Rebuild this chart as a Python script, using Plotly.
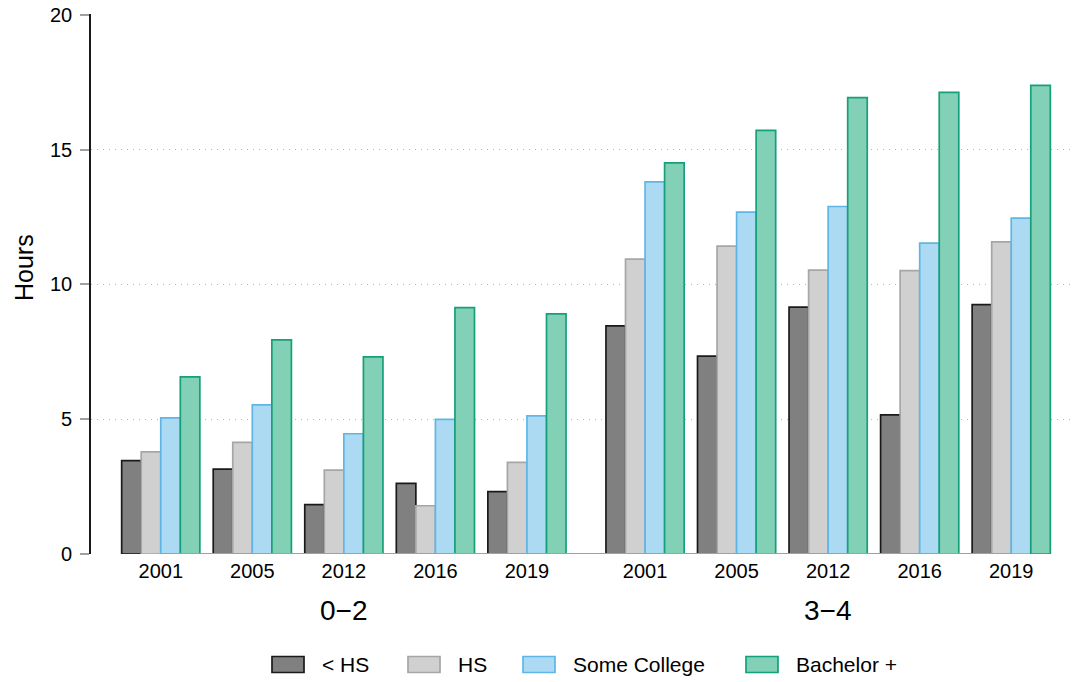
import plotly.graph_objects as go

# ---- data ----
age_groups = ["0\u22122", "3\u22124"]
years = ["2001", "2005", "2012", "2016", "2019"]
series_names = ["< HS", "HS", "Some College", "Bachelor +"]
lt_hs = [3.46, 3.15, 1.83, 2.62, 2.31, 8.46, 7.34, 9.16, 5.16, 9.25]
hs = [3.79, 4.14, 3.11, 1.79, 3.40, 10.94, 11.42, 10.53, 10.51, 11.58]
some_college = [5.05, 5.53, 4.46, 4.99, 5.12, 13.80, 12.68, 12.89, 11.53, 12.46]
bachelor = [6.57, 7.94, 7.31, 9.14, 8.91, 14.51, 15.71, 16.93, 17.12, 17.38]
y_ticks = [0, 5, 10, 15, 20]

# ---- styles ----
fills = ["#808080", "#d0d0d0", "#acdaf3", "#82d0b6"]
borders = ["#1a1a1a", "#a6a6a6", "#5fb6e6", "#16a07a"]
FONT = "Liberation Sans, Arial, Helvetica, sans-serif"

OFF = 8  # page body margin offset
W, H = 1083, 682
# target screen-pixel plot box
SX0, SX1, SY0, SY1 = 91, 1081, 14, 554
L = SX0 - OFF
T = SY0 - OFF
R = W - (SX1 - OFF)
B = H - (SY1 - OFF)
plot_w = SX1 - SX0
plot_h = SY1 - SY0


def px_x(sx):
    return (sx - SX0) / plot_w


def px_y(sy):
    return (SY1 - sy) / plot_h


group_gap = 0.29
positions = []
for a in range(len(age_groups)):
    for i in range(len(years)):
        positions.append(a * (len(years) + group_gap) + i)
tick_text = years * len(age_groups)

fig = go.Figure()
for name, vals, fc, bc in zip(series_names, [lt_hs, hs, some_college, bachelor], fills, borders):
    fig.add_trace(go.Bar(
        x=positions, y=vals, name=name,
        marker=dict(color=fc, line=dict(color=bc, width=1.7)),
        showlegend=False,
    ))

# x baseline (from first to last group centre)
fig.add_shape(type="line", xref="x", yref="y", x0=positions[0], x1=positions[-1], y0=0, y1=0,
              line=dict(color="#a0a0a0", width=2.2), layer="above")

# age group labels centred under middle year of each group
n = len(years)
for a, lab in enumerate(age_groups):
    mid = positions[a * n + n // 2]
    fig.add_annotation(x=mid, xref="x", y=px_y(610), yref="paper",
                       text=lab, showarrow=False, font=dict(size=28, color="black", family=FONT),
                       xanchor="center", yanchor="middle")

# y title
fig.add_annotation(x=px_x(OFF), xref="paper", y=px_y(268), yref="paper",
                   text="Hours", textangle=-90, showarrow=False,
                   font=dict(size=25, color="black", family=FONT),
                   xanchor="left", yanchor="middle")

# custom legend
box_left_px = [272, 408, 523, 746]
box_w, box_h, text_off = 32, 16, 48
leg_cy = 664.5
for name, fc, bc, bx in zip(series_names, fills, borders, box_left_px):
    fig.add_shape(type="rect", xref="paper", yref="paper",
                  x0=px_x(bx), x1=px_x(bx + box_w),
                  y0=px_y(leg_cy + box_h / 2), y1=px_y(leg_cy - box_h / 2),
                  fillcolor=fc, line=dict(color=bc, width=1.7))
    fig.add_annotation(x=px_x(bx + text_off), xref="paper", y=px_y(leg_cy), yref="paper",
                       text=name, showarrow=False, xanchor="left", yanchor="middle",
                       font=dict(size=21, color="black", family=FONT))

pad = 0.762
fig.update_layout(
    width=W, height=H,
    margin=dict(l=L, r=R, t=T, b=B, autoexpand=False),
    plot_bgcolor="white", paper_bgcolor="white",
    barmode="group", bargap=0.146, bargroupgap=0,
    font=dict(family=FONT, size=20, color="black"),
    xaxis=dict(range=[positions[0] - pad, positions[-1] + pad], tickvals=positions, ticktext=tick_text,
               showgrid=False, zeroline=False, showline=False, ticks="", ticklabelstandoff=3,
               tickfont=dict(size=20, family=FONT, color="black")),
    yaxis=dict(range=[0, 20.03], tickvals=y_ticks, showgrid=True, gridcolor="#b4b4b4", gridwidth=1.4,
               griddash="1px,5px", zeroline=False, showline=True, linecolor="#1a1a1a", linewidth=1.6,
               ticks="outside", ticklen=9, tickwidth=1.6, tickcolor="#a0a0a0", ticklabelstandoff=4,
               ticklabeloverflow="allow",
               tickfont=dict(size=20, family=FONT, color="black")),
)

fig.write_html("out.html")
